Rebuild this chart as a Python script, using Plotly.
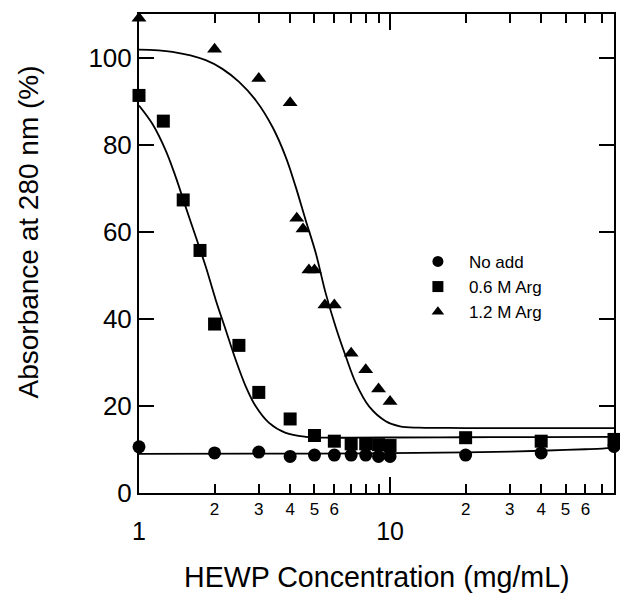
import math
import plotly.graph_objects as go

# ---- data ----
x_none = [1, 2, 3, 4, 5, 6, 7, 8, 9, 10, 20, 40, 78]
y_none = [10.6, 9.2, 9.4, 8.4, 8.7, 8.7, 8.7, 8.7, 8.4, 8.4, 8.7, 9.2, 10.7]

x_arg06 = [1, 1.25, 1.5, 1.75, 2, 2.5, 3, 4, 5, 6, 7, 8, 9, 10, 20, 40, 78]
y_arg06 = [91.3, 85.4, 67.3, 55.7, 38.8, 33.9, 23.1, 17.0, 13.2, 11.9, 11.3, 11.3, 11.1, 10.9, 12.7, 11.9, 12.3]

x_arg12 = [1, 2, 3, 4, 4.25, 4.5, 4.75, 5, 5.5, 6, 7, 8, 9, 10]
y_arg12 = [109.0, 101.9, 95.2, 89.6, 63.1, 60.6, 51.2, 51.2, 43.2, 43.2, 32.1, 28.3, 23.9, 21.0]

# fitted curves
fit_none_x = [1, 5, 10, 20, 30, 40, 50, 60, 70, 78]
fit_none_y = [9.0, 9.05, 9.15, 9.35, 9.5, 9.7, 9.9, 10.05, 10.2, 10.4]

fit06_x = [1, 1.13, 1.277, 1.4, 1.534, 1.682, 1.844, 2.02, 2.214, 2.427, 2.661, 2.917,
           3.296, 3.84, 4.61, 5.54, 7, 10, 20, 40, 78]
fit06_y = [89.0, 84.8, 78.7, 72.6, 65.7, 58.9, 52.0, 44.4, 37.5, 30.6, 24.5, 19.9,
           16.1, 13.8, 12.9, 12.7, 12.7, 12.75, 12.8, 12.85, 12.9]

fit12_x = [1, 1.358, 1.844, 2.148, 2.503, 2.917, 3.398, 3.84, 4.21, 4.61, 5.06, 5.54,
           6.07, 6.66, 7.3, 8.25, 9.61, 10.96, 13, 16, 20, 40, 78]
fit12_y = [101.8, 101.3, 99.4, 97.4, 94.4, 90.2, 84.1, 77.2, 70.3, 62.7, 55.1, 45.9,
           38.2, 31.4, 25.3, 19.9, 16.5, 15.3, 15.0, 14.95, 14.9, 14.9, 14.9]

minor_vals = [2, 3, 4, 5, 6, 7, 8, 9, 20, 30, 40, 50, 60, 70]
minor_text = ["2", "3", "4", "5", "6", "", "", "", "2", "3", "4", "5", "6", ""]
major_vals = [1, 10]
major_text = ["1", "10"]
y_ticks = [0, 20, 40, 60, 80, 100]

series_names = ["No add", "0.6 M Arg", "1.2 M Arg"]
symbols = ["circle", "square", "triangle-up"]

FONT = "Liberation Sans, Arial, sans-serif"

fig = go.Figure()

# curves
for fx, fy in [(fit_none_x, fit_none_y), (fit06_x, fit06_y), (fit12_x, fit12_y)]:
    fig.add_trace(go.Scatter(x=fx, y=fy, mode="lines",
                             line=dict(color="black", width=1.8, shape="spline", smoothing=1),
                             showlegend=False, hoverinfo="skip"))

# points
for (xs, ys), sym in zip([(x_none, y_none), (x_arg06, y_arg06), (x_arg12, y_arg12)], symbols):
    fig.add_trace(go.Scatter(x=xs, y=ys, mode="markers", cliponaxis=False,
                             marker=dict(symbol=sym, color="black", size=13, line=dict(width=0)),
                             showlegend=False))

# legend entries
for name, sym in zip(series_names, symbols):
    fig.add_trace(go.Scatter(x=[None], y=[None], mode="markers", name=name, xaxis="x2",
                             marker=dict(symbol=sym, color="black", size=11)))

xr = [0, math.log10(78)]
fig.update_layout(
    width=620, height=599,
    margin=dict(l=139, r=4, t=14, b=106),
    paper_bgcolor="white", plot_bgcolor="white",
    font=dict(family=FONT, color="black"),
    xaxis=dict(type="log", range=xr, showline=True, linecolor="black", linewidth=2,
               mirror="ticks", ticks="inside", ticklen=9, tickwidth=1.5, tickcolor="black",
               tickmode="array", tickvals=minor_vals, ticktext=minor_text,
               tickfont=dict(size=17, family=FONT), showgrid=False, zeroline=False),
    xaxis2=dict(type="log", range=xr, overlaying="x", anchor="y", side="bottom",
                showline=False, mirror="ticks", ticks="inside", ticklen=16, tickwidth=1.5,
                tickcolor="black", tickmode="array", tickvals=major_vals, ticktext=major_text,
                tickfont=dict(size=25, family=FONT), ticklabelstandoff=21,
                showgrid=False, zeroline=False),
    yaxis=dict(range=[0, 110], showline=True, linecolor="black", linewidth=2,
               mirror="ticks", ticks="inside", ticklen=15, tickwidth=1.5, tickcolor="black",
               tickmode="array", tickvals=y_ticks, tickfont=dict(size=26, family=FONT),
               showgrid=False, zeroline=False),
    legend=dict(x=0.564, y=0.52, xanchor="left", yanchor="top", itemwidth=52,
                font=dict(size=17, family=FONT), bgcolor="rgba(0,0,0,0)", tracegroupgap=0),
    annotations=[
        dict(text="HEWP Concentration (mg/mL)", xref="paper", yref="paper", x=0.5, y=-0.176,
             xanchor="center", yanchor="middle", showarrow=False, font=dict(size=28.6, family=FONT)),
        dict(text="Absorbance at 280 nm (%)", xref="paper", yref="paper", x=-0.2325, y=0.545,
             xanchor="center", yanchor="middle", textangle=-90, showarrow=False,
             font=dict(size=28, family=FONT)),
    ],
)

fig.write_html("out.html", config={"displayModeBar": False},
               post_script="document.body.style.margin='0';document.body.style.overflow='hidden';")
